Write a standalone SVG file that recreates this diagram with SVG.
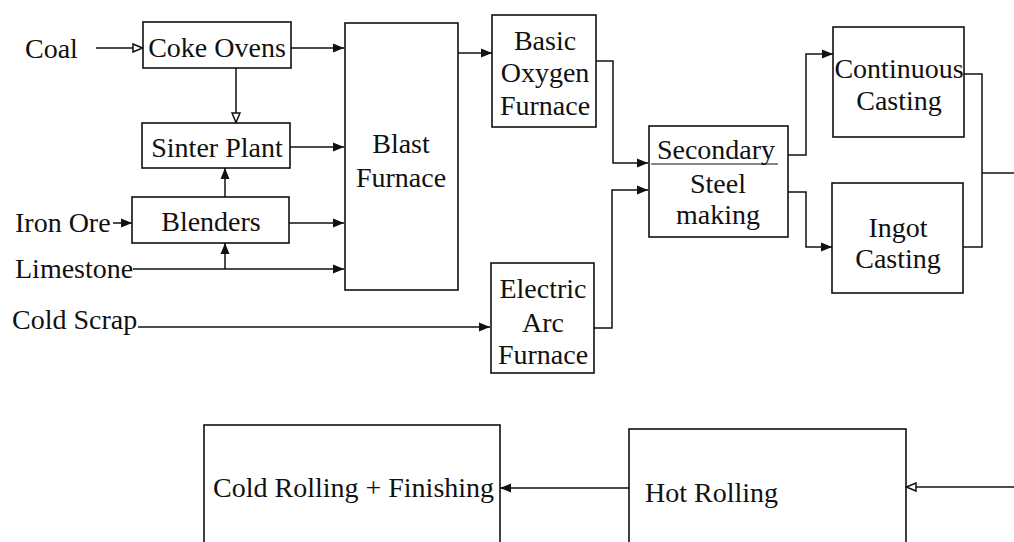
<svg xmlns="http://www.w3.org/2000/svg" width="1014" height="542" viewBox="0 0 1014 542">
<defs>
<style>
.box{fill:#fff;stroke:#111;stroke-width:1.6}
.ln{fill:none;stroke:#111;stroke-width:1.5}
.arr{marker-end:url(#ah)}
.arro{marker-end:url(#aho)}
text{font-family:"Liberation Serif","Times New Roman",serif;font-size:28px;fill:#111}
.c{text-anchor:middle}
</style>
<marker id="ah" markerUnits="userSpaceOnUse" markerWidth="12" markerHeight="10" refX="11" refY="5" orient="auto">
<path d="M0,0.5 L11,5 L0,9.5 z" fill="#111"/>
</marker>
<marker id="aho" markerUnits="userSpaceOnUse" markerWidth="12" markerHeight="10" refX="11" refY="5" orient="auto">
<path d="M1,1 L10.5,5 L1,9 z" fill="#fff" stroke="#111" stroke-width="1.5"/>
</marker>
</defs>
<rect width="1014" height="542" fill="#fff"/>

<g id="inputs">
<text x="25" y="58">Coal</text>
<text x="15" y="232">Iron Ore</text>
<text x="15" y="278">Limestone</text>
<text x="12" y="329">Cold Scrap</text>
</g>

<g id="coke-ovens"><rect class="box" x="143" y="22" width="148" height="46"/><text class="c" x="217" y="57">Coke Ovens</text></g>
<g id="sinter-plant"><rect class="box" x="142" y="123" width="148" height="45"/><text class="c" x="217" y="157">Sinter Plant</text></g>
<g id="blenders"><rect class="box" x="132" y="197" width="157" height="46"/><text class="c" x="211" y="231">Blenders</text></g>
<g id="blast-furnace"><rect class="box" x="345" y="23" width="113" height="267"/><text class="c" x="401" y="153">Blast</text><text class="c" x="401" y="187">Furnace</text></g>
<g id="bof"><rect class="box" x="492" y="15" width="104" height="112"/><text class="c" x="545" y="50">Basic</text><text class="c" x="545" y="82">Oxygen</text><text class="c" x="545" y="115">Furnace</text></g>
<g id="eaf"><rect class="box" x="491" y="263" width="103" height="110"/><text class="c" x="543" y="298">Electric</text><text class="c" x="543" y="332">Arc</text><text class="c" x="543" y="364">Furnace</text></g>
<g id="secondary"><rect class="box" x="649" y="126" width="139" height="111"/><text class="c" x="716" y="159">Secondary</text><line x1="651" y1="164" x2="778" y2="164" stroke="#111" stroke-width="1.2"/><text class="c" x="718" y="193">Steel</text><text class="c" x="718" y="224">making</text></g>
<g id="continuous"><rect class="box" x="833" y="27" width="131" height="110"/><text class="c" x="899" y="78">Continuous</text><text class="c" x="899" y="110">Casting</text></g>
<g id="ingot"><rect class="box" x="832" y="183" width="131" height="110"/><text class="c" x="898" y="237">Ingot</text><text class="c" x="898" y="268">Casting</text></g>
<g id="hot-rolling"><rect class="box" x="629" y="429" width="277" height="130"/><text x="645" y="502">Hot Rolling</text></g>
<g id="cold-rolling"><rect class="box" x="204" y="425" width="296" height="134"/><text x="213" y="497">Cold Rolling + Finishing</text></g>

<g id="connectors">
<line class="ln arro" x1="96" y1="48" x2="143" y2="48"/>
<line class="ln arr" x1="291" y1="48" x2="344" y2="48"/>
<line class="ln arro" x1="236" y1="68" x2="236" y2="123"/>
<line class="ln arr" x1="290" y1="147" x2="344" y2="147"/>
<line class="ln arr" x1="225" y1="197" x2="225" y2="168"/>
<line class="ln arr" x1="113" y1="223" x2="132" y2="223"/>
<line class="ln arr" x1="289" y1="223" x2="344" y2="223"/>
<line class="ln arr" x1="133" y1="269" x2="344" y2="269"/>
<line class="ln arr" x1="225" y1="269" x2="225" y2="243"/>
<line class="ln arr" x1="138" y1="327" x2="490" y2="327"/>
<line class="ln arr" x1="458" y1="53" x2="492" y2="53"/>
<polyline class="ln arr" points="596,61 613,61 613,163 648,163"/>
<polyline class="ln arr" points="594,328 612,328 612,190 648,190"/>
<polyline class="ln arr" points="788,155 806,155 806,54 833,54"/>
<polyline class="ln arr" points="788,192 806,192 806,247 832,247"/>
<polyline class="ln" points="964,74 982,74 982,247 963,247"/>
<line class="ln" x1="982" y1="173" x2="1014" y2="173"/>
<line class="ln arro" x1="1014" y1="487" x2="906" y2="487"/>
<line class="ln arr" x1="629" y1="488" x2="500" y2="488"/>
</g>
</svg>
